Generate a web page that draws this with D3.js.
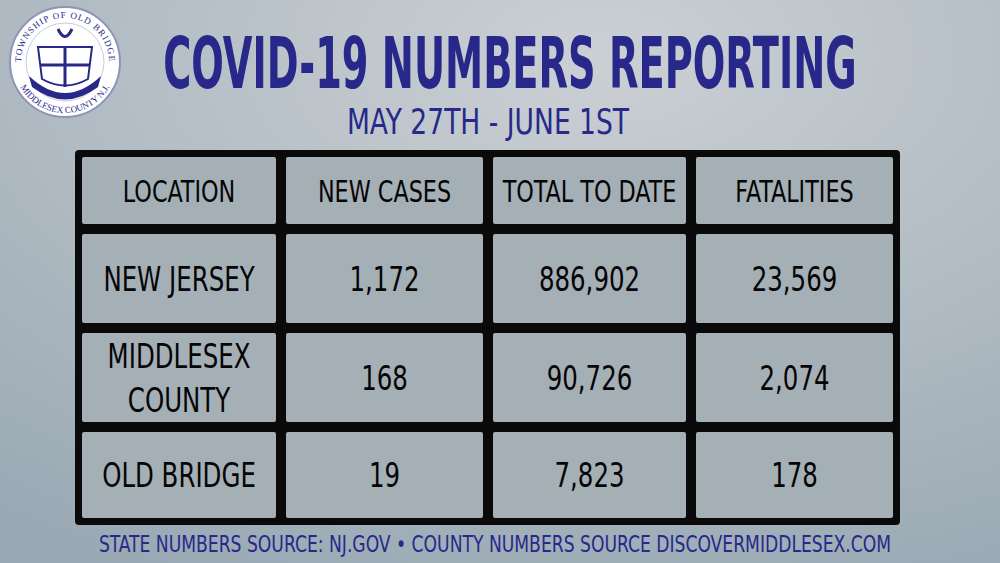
<!DOCTYPE html>
<html><head><meta charset="utf-8">
<script src="https://cdn.jsdelivr.net/npm/d3@7"></script>
<style>body{margin:0}svg{display:block}</style></head>
<body><script>
const columns = ["LOCATION","NEW CASES","TOTAL TO DATE","FATALITIES"];
const locations = [["NEW JERSEY"],["MIDDLESEX","COUNTY"],["OLD BRIDGE"]];
const newCases = ["1,172","168","19"];
const totalToDate = ["886,902","90,726","7,823"];
const fatalities = ["23,569","2,074","178"];

const W=1000,H=563;
const svg=d3.select("body").append("svg").attr("width",W).attr("height",H);
const defs=svg.append("defs");
const g=defs.append("radialGradient").attr("id","bg").attr("cx","0.6").attr("cy","0.1").attr("r","1");
g.append("stop").attr("offset","0").attr("stop-color","#cbd0d4");
g.append("stop").attr("offset","1").attr("stop-color","#9aa9b4");
svg.append("rect").attr("width",W).attr("height",H).attr("fill","url(#bg)");
const font='"DejaVu Sans Condensed","DejaVu Sans",sans-serif';
const blue="#27288a";
function stext(x,y,sx,txt,opts){
  const t=svg.append("g").attr("transform",`translate(${x},${y}) scale(${sx},1)`).append("text")
   .attr("text-anchor","middle").attr("font-family",font).text(txt);
  for(const k in opts) t.attr(k,opts[k]);
  return t;
}
stext(510,88,0.6,"COVID-19 NUMBERS REPORTING",{"font-weight":"bold","font-size":71,"fill":blue});
stext(488,134,0.82,"MAY 27TH - JUNE 1ST",{"font-size":36,"fill":blue});
stext(495,552,0.83,"STATE NUMBERS SOURCE: NJ.GOV • COUNTY NUMBERS SOURCE DISCOVERMIDDLESEX.COM",{"font-size":23,"fill":blue});

// logo
const lg=svg.append("g").attr("transform","translate(65,62)");
lg.append("circle").attr("r",55).attr("fill","#fff").attr("stroke","#8f93b8").attr("stroke-width",2);
lg.append("circle").attr("r",39).attr("fill","none").attr("stroke","#c8cadc").attr("stroke-width",1);
lg.append("path").attr("d","M-27,-15 L27,-15 L23,17 Q0,30 -23,17 Z").attr("fill","#fff").attr("stroke",blue).attr("stroke-width",2);
lg.append("path").attr("d","M0,-15V25M-25,3H25").attr("stroke",blue).attr("stroke-width",3);
lg.append("path").attr("d","M-36,14 Q0,48 36,14 L33,25 Q0,50 -33,25Z").attr("fill",blue);
lg.append("path").attr("d","M-7,-33 Q0,-18 7,-33").attr("fill","none").attr("stroke",blue).attr("stroke-width",3);
defs.append("path").attr("id","arc").attr("d","M-44,0 A44,44 0 0 1 44,0");
defs.append("path").attr("id","arc2").attr("d","M-51,0 A51,51 0 0 0 51,0");
lg.append("text").attr("font-family","Liberation Serif,serif").attr("font-size",9).attr("fill",blue).attr("letter-spacing",1)
 .append("textPath").attr("href","#arc").attr("startOffset","50%").attr("text-anchor","middle").text("TOWNSHIP  OF  OLD  BRIDGE");
lg.append("text").attr("font-family","Liberation Serif,serif").attr("font-size",9).attr("fill",blue)
 .append("textPath").attr("href","#arc2").attr("startOffset","50%").attr("text-anchor","middle").text("MIDDLESEX COUNTY N.J.");

// table
const colEdges=[75,281,488,691,900];
const rowEdges=[150,229,328,427,525];
svg.append("rect").attr("x",75).attr("y",150).attr("width",825).attr("height",375).attr("rx",4).attr("fill","#0a0a0a");
const rows=[columns].concat(locations.map((l,i)=>[l,newCases[i],totalToDate[i],fatalities[i]]));
const gap=5;
rows.forEach((r,ri)=>{
  r.forEach((c,ci)=>{
    const x0=colEdges[ci]+(ci==0?7:gap), x1=colEdges[ci+1]-(ci==3?7:gap);
    const y0=rowEdges[ri]+(ri==0?7:gap), y1=rowEdges[ri+1]-(ri==3?7:gap);
    svg.append("rect").attr("x",x0).attr("y",y0).attr("width",x1-x0).attr("height",y1-y0).attr("rx",2).attr("fill","#aeb8c0").attr("opacity",0.95);
    const lines=Array.isArray(c)?c:[c];
    const cx=(x0+x1)/2, cy=(y0+y1)/2;
    const fs=ri==0?31:34, lh=44;
    lines.forEach((t,li)=>{
      stext(cx,cy+(li-(lines.length-1)/2)*lh+fs*0.36,0.8,t,{"font-size":fs,"fill":"#050505"});
    });
  });
});
</script></body></html>
